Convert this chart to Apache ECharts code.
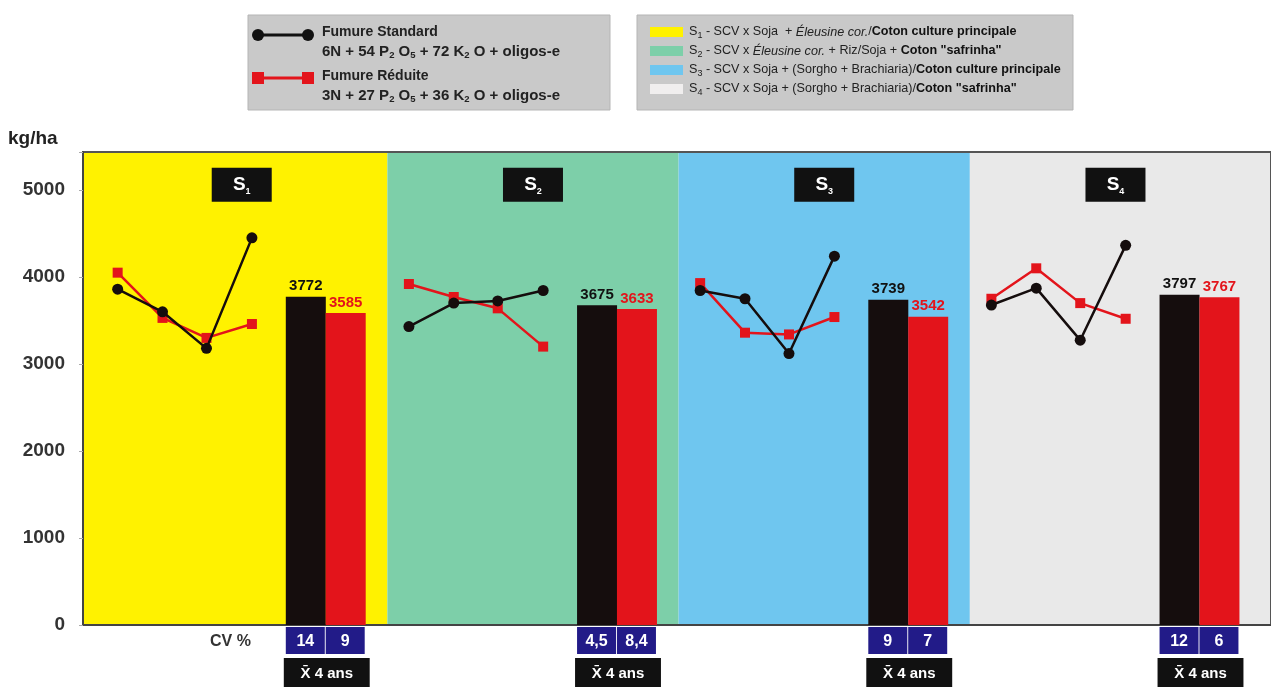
<!DOCTYPE html>
<html>
<head>
<meta charset="utf-8">
<script src="https://cdn.jsdelivr.net/npm/echarts/dist/echarts.min.js"></script>
<style>html,body{margin:0;padding:0;background:#fff}#c{width:1271px;height:687px}</style>
</head>
<body>
<div id="c"></div>
<script>
// ---------- DATA ----------
const systems = ['S1', 'S2', 'S3', 'S4'];
const years = ['Année 1', 'Année 2', 'Année 3', 'Année 4'];
const standardYield = [
  [3860, 3600, 3180, 4450],
  [3430, 3700, 3725, 3845],
  [3845, 3750, 3120, 4240],
  [3678, 3872, 3274, 4364]
];
const reducedYield = [
  [4050, 3530, 3300, 3460],
  [3920, 3770, 3640, 3200],
  [3930, 3360, 3340, 3540],
  [3750, 4100, 3700, 3520]
];
const meanStandard = [3772, 3675, 3739, 3797];
const meanReduced = [3585, 3633, 3542, 3767];
const cvStandard = ['14', '4,5', '9', '12'];
const cvReduced = ['9', '8,4', '7', '6'];
const meanLabel = 'X\u0304 4 ans';
const seriesNames = ['Fumure Standard', 'Fumure Réduite'];

// ---------- LAYOUT / STYLE ----------
const FONT = 'Liberation Sans, Arial, sans-serif';
const panelColors = ['#fff200', '#7dcfa9', '#6fc6ef', '#e9e9e9'];
const BLACK = '#150d0d', RED = '#e3141b', NAVY = '#221b88';
const X_MIN = -0.045, X_MAX = 4.034, Y_MAX = 5437, LABEL_Y = 5060;
const YEAR_POS = [0.074, 0.228, 0.379, 0.535];
const BAR_POS = [0.72, 0.857];
const BAR_W = 40;

const chart = echarts.init(document.getElementById('c'));
const series = [];

// panel backgrounds
series.push({
  type: 'custom', z: -1, silent: true,
  data: systems.map((s, i) => [i]),
  renderItem: (params, api) => {
    const i = api.value(0);
    const x0 = i === 0 ? X_MIN : i;
    const x1 = i === systems.length - 1 ? X_MAX : i + 1;
    const p0 = api.coord([x0, Y_MAX]), p1 = api.coord([x1, 0]);
    return { type: 'rect', shape: { x: p0[0], y: p0[1], width: p1[0] - p0[0], height: p1[1] - p0[1] }, style: { fill: panelColors[i] } };
  }
});

// bars (means)
series.push({
  type: 'bar', barWidth: BAR_W, z: 2,
  data: systems.flatMap((s, i) => [
    { value: [i + BAR_POS[0], meanStandard[i]], itemStyle: { color: BLACK }, label: { color: '#111' } },
    { value: [i + BAR_POS[1], meanReduced[i]], itemStyle: { color: RED }, label: { color: RED } }
  ]),
  label: { show: true, position: 'top', distance: 3, fontSize: 15, fontWeight: 'bold', fontFamily: FONT, formatter: p => p.value[1] }
});

// yearly lines
systems.forEach((s, i) => {
  series.push({
    type: 'line', name: seriesNames[1], z: 3,
    data: reducedYield[i].map((v, k) => [i + YEAR_POS[k], v]),
    symbol: 'rect', symbolSize: 10,
    itemStyle: { color: RED }, lineStyle: { color: RED, width: 2.5 }
  });
  series.push({
    type: 'line', name: seriesNames[0], z: 4,
    data: standardYield[i].map((v, k) => [i + YEAR_POS[k], v]),
    symbol: 'circle', symbolSize: 11,
    itemStyle: { color: BLACK }, lineStyle: { color: BLACK, width: 2.5 }
  });
});

// system tags
series.push({
  type: 'scatter', z: 5, symbol: 'rect', symbolSize: [60, 34],
  itemStyle: { color: '#111', opacity: 1 },
  data: systems.map((s, i) => ({ value: [i + 0.5, LABEL_Y], name: s })),
  label: {
    show: true, position: 'inside',
    formatter: p => '{s|S}{n|' + p.name.slice(1) + '}',
    rich: {
      s: { fontSize: 19, fontWeight: 'bold', color: '#fff', fontFamily: FONT, lineHeight: 22 },
      n: { fontSize: 9, fontWeight: 'bold', color: '#fff', fontFamily: FONT, lineHeight: 9, verticalAlign: 'bottom' }
    }
  }
});

// CV boxes and mean boxes under the bars
series.push({
  type: 'custom', z: 5, clip: false, silent: true,
  data: systems.map((s, i) => [i]),
  renderItem: (params, api) => {
    const i = api.value(0);
    const a = api.coord([i + BAR_POS[0], 0]), b = api.coord([i + BAR_POS[1], 0]);
    const top = a[1] + 2, h = 27;
    const children = [];
    [[a, cvStandard[i]], [b, cvReduced[i]]].forEach(([p, t]) => {
      children.push({ type: 'rect', shape: { x: p[0] - BAR_W / 2, y: top, width: BAR_W - 1, height: h }, style: { fill: NAVY } });
      children.push({ type: 'text', style: { text: t, x: p[0] - 0.5, y: top + h / 2 + 1, align: 'center', verticalAlign: 'middle', fill: '#fff', font: 'bold 16px ' + FONT } });
    });
    const xl = a[0] - BAR_W / 2 - 2, xr = b[0] + BAR_W / 2 + 4;
    children.push({ type: 'rect', shape: { x: xl, y: top + h + 4, width: xr - xl, height: 32 }, style: { fill: '#111' } });
    children.push({ type: 'text', style: { text: meanLabel, x: (xl + xr) / 2, y: top + h + 20, align: 'center', verticalAlign: 'middle', fill: '#fff', font: 'bold 15px ' + FONT } });
    return { type: 'group', children };
  }
});

// ---------- LEGEND (graphic) ----------
const sub = { fontSize: 9.5, fontWeight: 'bold', fontFamily: FONT, fill: '#222', lineHeight: 9, verticalAlign: 'bottom' };
const subN = { fontSize: 9, fontFamily: FONT, fill: '#222', lineHeight: 9, verticalAlign: 'bottom' };
const legendRich = {
  s: sub,
  sn: subN,
  b: { fontSize: 12.6, fontWeight: 'bold', fontFamily: FONT, fill: '#111', lineHeight: 16 },
  it: { fontSize: 12.6, fontStyle: 'italic', fontFamily: FONT, fill: '#222', lineHeight: 16 }
};
const legend2Lines = [
  'S{sn|1} - SCV x Soja  + {it|Éleusine cor.}/{b|Coton culture principale}',
  'S{sn|2} - SCV x {it|Éleusine cor.} + Riz/Soja + {b|Coton "safrinha"}',
  'S{sn|3} - SCV x Soja + (Sorgho + Brachiaria)/{b|Coton culture principale}',
  'S{sn|4} - SCV x Soja + (Sorgho + Brachiaria)/{b|Coton "safrinha"}'
];
const legendSwatch = ['#fff200', '#7dcfa9', '#6fc6ef', '#f0eeee'];
const graphic = [
  { type: 'text', left: 8, top: 129, style: { text: 'kg/ha', font: 'bold 19px ' + FONT, fill: '#222' } },
  { type: 'text', left: 210, top: 634, style: { text: 'CV %', font: 'bold 16px ' + FONT, fill: '#333' } },
  { type: 'rect', shape: { x: 248, y: 15, width: 362, height: 95 }, style: { fill: '#c9c9c9', stroke: '#b5b5b5' } },
  { type: 'line', shape: { x1: 258, y1: 35, x2: 308, y2: 35 }, style: { stroke: '#111', lineWidth: 3 } },
  { type: 'circle', shape: { cx: 258, cy: 35, r: 6 }, style: { fill: '#111' } },
  { type: 'circle', shape: { cx: 308, cy: 35, r: 6 }, style: { fill: '#111' } },
  { type: 'line', shape: { x1: 258, y1: 78, x2: 308, y2: 78 }, style: { stroke: RED, lineWidth: 3 } },
  { type: 'rect', shape: { x: 252, y: 72, width: 12, height: 12 }, style: { fill: RED } },
  { type: 'rect', shape: { x: 302, y: 72, width: 12, height: 12 }, style: { fill: RED } },
  { type: 'text', x: 322, y: 25, style: { text: seriesNames[0], font: 'bold 14px ' + FONT, fill: '#222' } },
  { type: 'text', x: 322, y: 43, style: { text: '6N + 54 P{s|2} O{s|5} + 72 K{s|2} O + oligos-e', font: 'bold 15px ' + FONT, fill: '#222', lineHeight: 17, rich: legendRich } },
  { type: 'text', x: 322, y: 69, style: { text: seriesNames[1], font: 'bold 14px ' + FONT, fill: '#222' } },
  { type: 'text', x: 322, y: 87, style: { text: '3N + 27 P{s|2} O{s|5} + 36 K{s|2} O + oligos-e', font: 'bold 15px ' + FONT, fill: '#222', lineHeight: 17, rich: legendRich } },
  { type: 'rect', shape: { x: 637, y: 15, width: 436, height: 95 }, style: { fill: '#c9c9c9', stroke: '#b5b5b5' } }
];
legend2Lines.forEach((t, k) => {
  const cy = 32 + k * 19;
  graphic.push({ type: 'rect', shape: { x: 650, y: cy - 5, width: 33, height: 10 }, style: { fill: legendSwatch[k] } });
  graphic.push({ type: 'text', x: 689, y: cy - 8, style: { text: t, font: '12.6px ' + FONT, fill: '#222', lineHeight: 16, rich: legendRich } });
});

chart.setOption({
  animation: false,
  backgroundColor: '#fff',
  grid: { left: 83, right: -3, top: 152, bottom: 62, show: true, borderColor: '#555', borderWidth: 2, backgroundColor: 'transparent' },
  xAxis: {
    type: 'value', min: X_MIN, max: X_MAX,
    axisLine: { show: true, onZero: false, lineStyle: { color: '#444', width: 2 } },
    axisTick: { show: false }, axisLabel: { show: false }, splitLine: { show: false }
  },
  yAxis: {
    type: 'value', min: 0, max: Y_MAX, interval: 1000,
    axisLine: { show: true, onZero: false, lineStyle: { color: '#444', width: 2 } },
    axisTick: { show: true, length: 4, lineStyle: { color: '#aaa' } },
    splitLine: { show: false },
    axisLabel: { margin: 18, fontSize: 19, fontWeight: 'bold', color: '#333', fontFamily: FONT, formatter: v => (v % 1000 === 0 ? String(v) : '') }
  },
  graphic: graphic,
  series: series
});
</script>
</body>
</html>
